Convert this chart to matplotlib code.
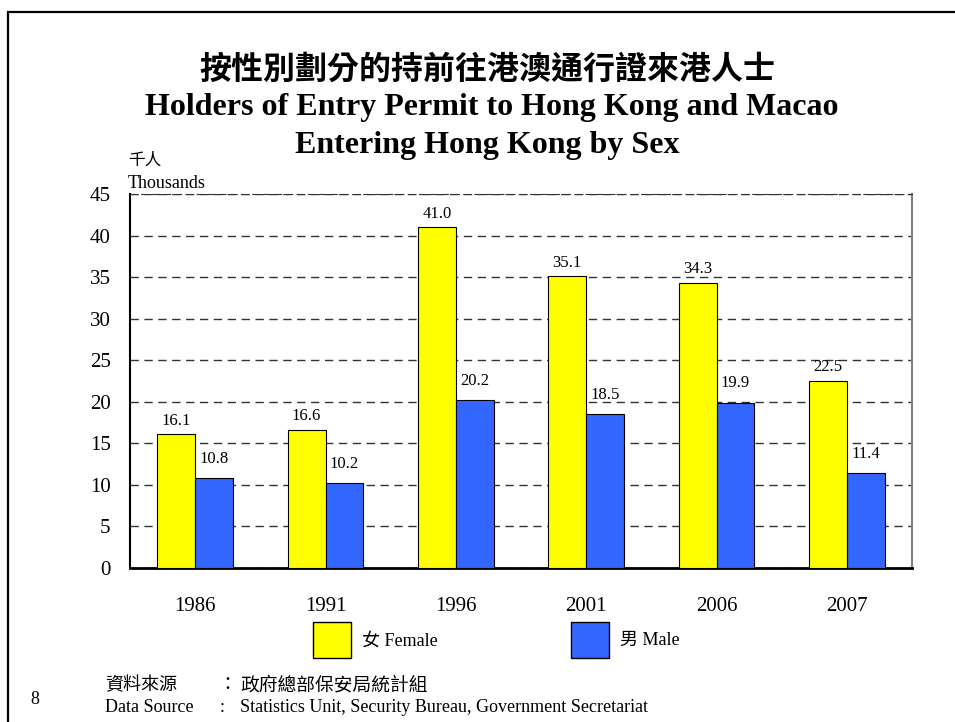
import matplotlib
matplotlib.use('Agg')
import matplotlib.pyplot as plt
from matplotlib.patches import Rectangle, Patch

# data (thousands)
years = ['1986', '1991', '1996', '2001', '2006', '2007']
female = [16.1, 16.6, 41.0, 35.1, 34.3, 22.5]
male = [10.8, 10.2, 20.2, 18.5, 19.9, 11.4]

SERIF = ['Liberation Serif', 'Noto Sans CJK TC']
CJK = ['Noto Sans CJK TC', 'Liberation Serif']
plt.rcParams['font.family'] = SERIF

fig = plt.figure(figsize=(9.55, 7.22), dpi=100)
W, H = 955, 722

# page frame
fig.patches.append(Rectangle((8 / W, -0.1), 1.2, (722 - 12) / H + 0.1,
                             transform=fig.transFigure, fill=False,
                             edgecolor='black', linewidth=1.6))

ax = fig.add_axes([130 / W, (722 - 568) / H, 782 / W, 374 / H])

x = range(len(years))
bw = 0.29
fbars = ax.bar([i - bw / 2 for i in x], female, bw, color='#FFFF00',
               edgecolor='black', linewidth=0.8, zorder=3)
mbars = ax.bar([i + bw / 2 for i in x], male, bw, color='#3366FF',
               edgecolor='black', linewidth=0.8, zorder=3)

for b, v in zip(fbars, female):
    ax.annotate(f'{v:.1f}', (b.get_x() + b.get_width() / 2, v),
                xytext=(0, 4), textcoords='offset points',
                ha='center', va='bottom', fontsize=12)
for b, v in zip(mbars, male):
    ax.annotate(f'{v:.1f}', (b.get_x() + b.get_width() / 2, v),
                xytext=(0, 8), textcoords='offset points',
                ha='center', va='bottom', fontsize=12)

ax.set_xlim(-0.5, len(years) - 0.5)
ax.set_ylim(0, 45)
ax.set_yticks(range(0, 50, 5))
ax.set_xticks(list(x))
ax.set_xticklabels(years)
ax.tick_params(axis='x', length=0, pad=21, labelsize=15)
ax.tick_params(axis='y', length=0, pad=14, labelsize=15)
ax.yaxis.grid(True, linestyle=(0, (6, 4)), color='#333333', linewidth=1.0, zorder=0)
ax.set_axisbelow(True)

ax.spines['left'].set_linewidth(1.5)
ax.spines['bottom'].set_linewidth(2.0)
ax.spines['right'].set_color('#808080')
ax.spines['right'].set_linewidth(1.5)
ax.spines['top'].set_linestyle((0, (6, 4)))
ax.spines['top'].set_color('#333333')

# titles
fig.text(487 / W, 1 - 70 / H, '按性別劃分的持前往港澳通行證來港人士',
         family=CJK, fontsize=23, fontweight='bold', ha='center', va='center')
fig.text(492 / W, 1 - 108 / H, 'Holders of Entry Permit to Hong Kong and Macao',
         fontsize=23, fontweight='bold', ha='center', va='center')
fig.text(487 / W, 1 - 146 / H, 'Entering Hong Kong by Sex',
         fontsize=23, fontweight='bold', ha='center', va='center')

fig.text(128 / W, 1 - 160 / H, '千人', family=CJK, fontsize=12, va='center')
fig.text(128 / W, 1 - 183 / H, 'Thousands', fontsize=13, va='center')

# legend
handles = [Patch(facecolor='#FFFF00', edgecolor='black', label='女 Female'),
           Patch(facecolor='#3366FF', edgecolor='black', label='男 Male')]
fig.legend(handles=handles, loc='center', bbox_to_anchor=(496 / W, 1 - 640 / H),
           ncol=2, frameon=False, fontsize=13, handlelength=2.1, handleheight=2.7,
           columnspacing=7.4, handletextpad=0.6)

# footer
fig.text(30 / W, 1 - 700 / H, '8', fontsize=13, va='center')
fig.text(105 / W, 1 - 685 / H, '資料來源', family=CJK, fontsize=13, va='center')
fig.text(218 / W, 1 - 685 / H, '：', family=CJK, fontsize=13, va='center')
fig.text(240 / W, 1 - 685 / H, '政府總部保安局統計組', family=CJK, fontsize=13.5, va='center')
fig.text(105 / W, 1 - 707 / H, 'Data Source', fontsize=13, va='center')
fig.text(220 / W, 1 - 707 / H, ':', fontsize=13, va='center')
fig.text(240 / W, 1 - 707 / H, 'Statistics Unit, Security Bureau, Government Secretariat',
         fontsize=13, va='center')

fig.savefig('out.png', dpi=100)
